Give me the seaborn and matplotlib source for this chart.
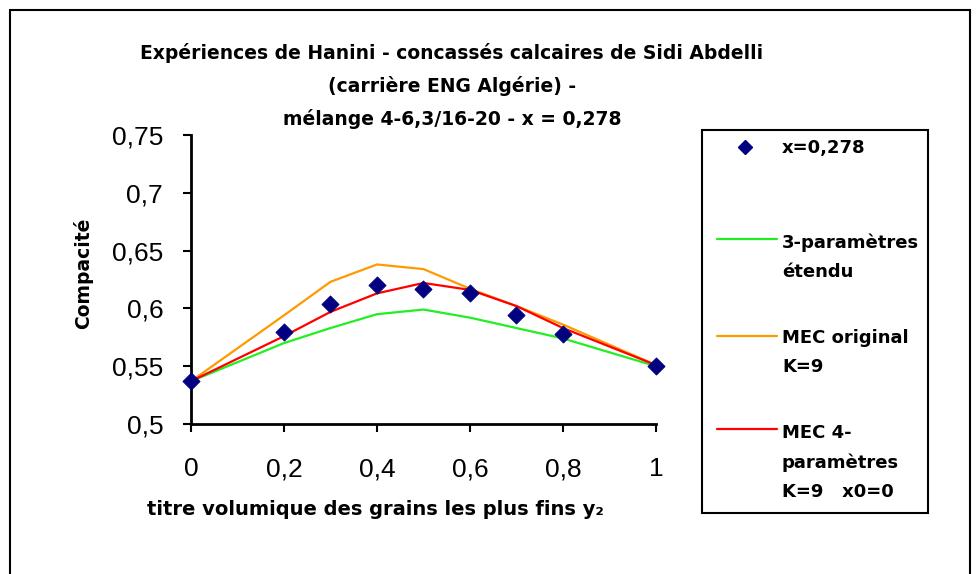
import numpy as np
import pandas as pd
import matplotlib
matplotlib.use("Agg")
import matplotlib.pyplot as plt
from matplotlib.lines import Line2D
from matplotlib.patches import Rectangle
import seaborn as sns

# titre volumique des grains fins y2
y2 = [0, 0.2, 0.3, 0.4, 0.5, 0.6, 0.7, 0.8, 1]

# compacité mesurée (x = 0,278)
mesures = [0.537, 0.580, 0.604, 0.620, 0.617, 0.613, 0.594, 0.578, 0.550]

# modèles
trois_param = [0.537, 0.570, 0.583, 0.595, 0.599, 0.592, 0.583, 0.574, 0.550]
mec_original = [0.537, 0.594, 0.623, 0.638, 0.634, 0.617, 0.602, 0.586, 0.551]
mec_4param = [0.537, 0.576, 0.597, 0.613, 0.622, 0.616, 0.602, 0.583, 0.551]

y_ticks = [0.5, 0.55, 0.6, 0.65, 0.7, 0.75]
x_ticks = [0, 0.2, 0.4, 0.6, 0.8, 1]

title_lines = ["Expériences de Hanini - concassés calcaires de Sidi Abdelli",
               "(carrière ENG Algérie) -",
               "mélange 4-6,3/16-20 - x = 0,278"]

df = pd.DataFrame({"y2": y2, "mesures": mesures, "3p": trois_param,
                   "mec": mec_original, "mec4": mec_4param})

sns.set_style("white")
plt.rcParams["font.family"] = ["DejaVu Sans"]
plt.rcParams["text.color"] = "black"
plt.rcParams["axes.labelcolor"] = "black"
plt.rcParams["xtick.color"] = "black"
plt.rcParams["ytick.color"] = "black"

W, H = 979, 574
fig = plt.figure(figsize=(W / 100, H / 100), dpi=100)
ax = fig.add_axes([191 / W, 1 - 424 / H, 465 / W, 289 / H])

sns.lineplot(data=df, x="y2", y="3p", color="#22ee22", lw=1.6, ax=ax)
sns.lineplot(data=df, x="y2", y="mec", color="#ff9900", lw=1.6, ax=ax)
sns.lineplot(data=df, x="y2", y="mec4", color="#ff0000", lw=1.6, ax=ax)
sns.scatterplot(data=df, x="y2", y="mesures", marker="D", s=75, color="#000080",
                edgecolor="#000080", zorder=5, ax=ax, clip_on=False)

ax.set_xlim(0, 1)
ax.set_ylim(0.5, 0.75)
ax.set_xticks(x_ticks)
ax.set_yticks(y_ticks)
ax.set_xticklabels([f"{v:g}".replace(".", ",") for v in x_ticks],
                   fontfamily="Liberation Sans", fontsize=19)
ax.set_yticklabels([f"{v:g}".replace(".", ",") for v in y_ticks],
                   fontfamily="Liberation Sans", fontsize=19)
ax.tick_params(direction="out", length=6, width=1.5, color="black",
               left=True, bottom=True)
ax.tick_params(axis="y", pad=14)
ax.tick_params(axis="x", pad=18)
for side in ["top", "right"]:
    ax.spines[side].set_visible(False)
for side in ["left", "bottom"]:
    ax.spines[side].set_color("black")
    ax.spines[side].set_linewidth(2)
ax.grid(False)

ax.set_xlabel("titre volumique des grains les plus fins y\u2082",
              fontsize=14, fontweight="bold")
ax.set_ylabel("Compacité", fontsize=13.5, fontweight="bold")
ax.xaxis.set_label_coords((375 - 191) / 465, (424 - 500) / 289)
ax.yaxis.set_label_coords((93 - 191) / 465, (424 - 273) / 289)

# title, one line at a time
for line, ypx in zip(title_lines, [53, 86, 119]):
    fig.text(452 / W, 1 - ypx / H, line, ha="center", va="center",
             fontsize=13.5, fontweight="bold")

# outer frame
fig.patches.append(Rectangle((10 / W, -0.05), 960 / W, 1.05 - 10 / H,
                             transform=fig.transFigure, fill=False,
                             edgecolor="black", lw=1.5))

# legend box
fig.patches.append(Rectangle((702 / W, 1 - 513 / H), 226 / W, 383 / H,
                             transform=fig.transFigure, fill=False,
                             edgecolor="black", lw=1.5))
leg_items = [
    ("marker", "#000080", 147, 148, "x=0,278"),
    ("line", "#22ee22", 239, 242, "3-paramètres\nétendu"),
    ("line", "#ff9900", 336, 338, "MEC original\nK=9"),
    ("line", "#ff0000", 429, 433, "MEC 4-\nparamètres\nK=9   x0=0"),
]
for kind, col, yh, yt, label in leg_items:
    yf = 1 - yh / H
    if kind == "marker":
        fig.lines.append(Line2D([745 / W], [yf], transform=fig.transFigure,
                                marker="D", ms=7, color=col, lw=0))
    else:
        fig.lines.append(Line2D([717 / W, 777 / W], [yf, yf],
                                transform=fig.transFigure, color=col, lw=1.6))
    fig.text(782 / W, 1 - (yt - 9) / H, label, ha="left", va="top",
             fontsize=13, fontweight="bold", linespacing=1.8)

fig.savefig("out.png", dpi=100)
